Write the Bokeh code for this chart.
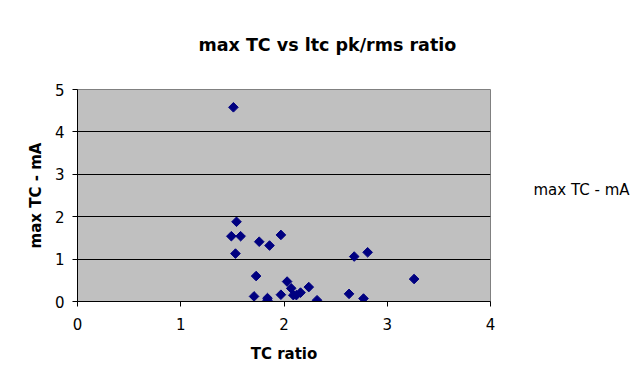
from bokeh.plotting import figure
from bokeh.models import Range1d, FixedTicker, Title, LinearAxis
from bokeh.embed import file_html
from bokeh.resources import INLINE
import math

# data
tc_ratio = [1.51, 1.54, 1.49, 1.58, 1.53, 1.76, 1.86, 1.97, 1.73, 1.71, 1.84, 1.84, 1.97,
            2.03, 2.07, 2.09, 2.12, 2.16, 2.24, 2.32, 2.63, 2.68, 2.77, 2.81, 3.26]
max_tc_ma = [4.58, 1.88, 1.54, 1.54, 1.13, 1.41, 1.32, 1.57, 0.60, 0.12, 0.08, 0.03, 0.16,
             0.47, 0.31, 0.15, 0.15, 0.21, 0.34, 0.03, 0.18, 1.06, 0.07, 1.16, 0.53]
x_ticks = [0, 1, 2, 3, 4]
y_ticks = [0, 1, 2, 3, 4, 5]

title_text = "max TC vs ltc pk/rms ratio"
x_title = "TC ratio"
y_title = "max TC - mA"
series_name = "max TC - mA"

FONT = "DejaVu Sans"

title = Title(text=title_text, align="left", offset=121, vertical_align="top", standoff=65,
              text_font=FONT, text_font_size="17.5px", text_font_style="bold",
              text_color="black")

p = figure(width=640, height=385, output_backend="svg", toolbar_location=None,
           x_range=Range1d(0, 4), y_range=Range1d(0, 5), title=title,
           min_border_left=77, min_border_top=89, min_border_right=150, min_border_bottom=84)

p.background_fill_color = "#C0C0C0"
p.border_fill_color = "white"
p.outline_line_color = "#808080"
p.outline_line_width = 1

p.xgrid.visible = False
p.ygrid.grid_line_color = "black"
p.ygrid.grid_line_width = 1
p.ygrid.ticker = FixedTicker(ticks=y_ticks)

p.xaxis.ticker = FixedTicker(ticks=x_ticks)
p.yaxis.ticker = FixedTicker(ticks=y_ticks)
for ax in (p.xaxis[0], p.yaxis[0]):
    ax.axis_line_color = "black"
    ax.major_tick_line_color = "black"
    ax.major_tick_out = 5
    ax.major_tick_in = 0
    ax.minor_tick_line_color = None
    ax.major_label_text_font = FONT
    ax.major_label_text_font_size = "15px"
    ax.major_label_text_color = "black"
    ax.axis_label_text_font = FONT
    ax.axis_label_text_font_size = "15px"
    ax.axis_label_text_font_style = "bold"
    ax.axis_label_text_color = "black"

p.xaxis.axis_label = x_title
p.yaxis.axis_label = y_title
p.xaxis.major_label_standoff = 11
p.yaxis.major_label_standoff = 8
p.xaxis.axis_label_standoff = 12
p.yaxis.axis_label_standoff = 7

p.scatter(tc_ratio, max_tc_ma, marker="square", angle=math.pi / 4, size=6.8,
          fill_color="#000080", line_color="#000080")

# series key, placed to the right of the plot area as a label of a bare right axis
key_pos = 2.62
key_axis = LinearAxis(ticker=FixedTicker(ticks=[key_pos]),
                      major_label_overrides={key_pos: series_name},
                      axis_line_color=None, major_tick_line_color=None,
                      minor_tick_line_color=None, major_tick_out=0, major_tick_in=0,
                      major_label_standoff=43, major_label_text_font=FONT,
                      major_label_text_font_size="15px", major_label_text_color="black")
p.add_layout(key_axis, "right")

open("out.html", "w").write(file_html(p, INLINE))
